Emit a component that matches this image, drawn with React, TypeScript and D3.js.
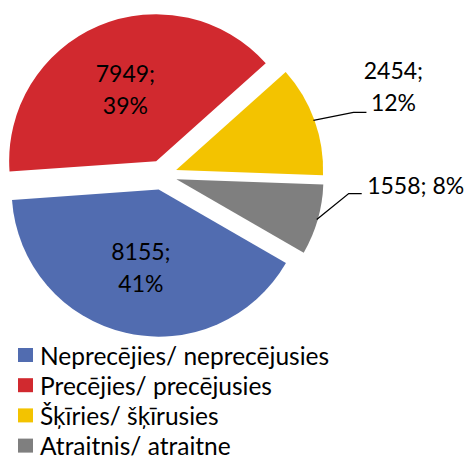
import React, { useEffect, useRef } from "react";
import * as d3 from "d3";

const categories = [
  "Neprecējies/ neprecējusies",
  "Precējies/ precējusies",
  "Šķīries/ šķīrusies",
  "Atraitnis/ atraitne",
];
const values = [8155, 7949, 2454, 1558];
const percentLabels = ["41%", "39%", "12%", "8%"];
const colors = ["#516CB0", "#D1292F", "#F3C300", "#7F7F7F"];

const FONT = "Lato, 'Open Sans', sans-serif";

const PieChart = () => {
  const ref = useRef<SVGSVGElement>(null);

  useEffect(() => {
    if (!ref.current) return;
    const svg = d3.select(ref.current);
    svg.selectAll("*").remove();

    const cx = 162;
    const cy = 175;
    const radius = 147;
    const explode = 15;
    const start = (120 * Math.PI) / 180;

    const data = categories.map((c, i) => ({
      name: c,
      value: values[i],
      pct: percentLabels[i],
      color: colors[i],
    }));

    const pie = d3
      .pie<any>()
      .sort(null)
      .value((d: any) => d.value)
      .startAngle(start)
      .endAngle(start + 2 * Math.PI);

    const arcs = pie(data);
    const arc = d3.arc<any>().innerRadius(0).outerRadius(radius);
    const mid = (a: any) => (a.startAngle + a.endAngle) / 2;
    const off = (a: any, r: number) => [
      Math.sin(mid(a)) * r,
      -Math.cos(mid(a)) * r,
    ];

    const g = svg.append("g").attr("transform", `translate(${cx},${cy})`);

    // exploded slices
    const slices = g
      .selectAll(".slice")
      .data(arcs)
      .enter()
      .append("g")
      .attr("class", "slice")
      .attr("transform", (d) => {
        const [x, y] = off(d, explode);
        return `translate(${x},${y})`;
      });

    slices
      .append("path")
      .attr("d", arc as any)
      .attr("fill", (d) => d.data.color);

    // inside labels for the two big slices
    const inside = arcs.filter((a) => a.endAngle - a.startAngle > 1);
    inside.forEach((a) => {
      const [x, y] = off(a, explode + 79);
      const t = g
        .append("text")
        .attr("x", x)
        .attr("y", y)
        .attr("text-anchor", "middle")
        .style("font-family", FONT)
        .style("font-size", "23px")
        .attr("fill", "#000");
      t.append("tspan").attr("x", x).attr("dy", "-0.3em").text(`${a.data.value};`);
      t.append("tspan").attr("x", x).attr("dy", "1.4em").text(a.data.pct);
    });

    // outside labels with leader lines
    const outside = arcs.filter((a) => a.endAngle - a.startAngle <= 1);
    const elbows = [
      [40, -8],
      [32, -26],
    ];
    const tail = 13;
    outside.forEach((a, i) => {
      const [sx, sy] = off(a, explode + radius - 1);
      const ex = sx + elbows[i][0];
      const ey = sy + elbows[i][1];
      g.append("polyline")
        .attr("points", `${sx},${sy} ${ex},${ey} ${ex + tail},${ey}`)
        .attr("fill", "none")
        .attr("stroke", "#000")
        .attr("stroke-width", 1.3);
      const t = g
        .append("text")
        .attr("text-anchor", "middle")
        .style("font-family", FONT)
        .style("font-size", "23px")
        .attr("fill", "#000");
      if (i === 0) {
        const tx = ex + 40;
        t.append("tspan").attr("x", tx).attr("y", ey - 33).text(`${a.data.value};`);
        t.append("tspan").attr("x", tx).attr("y", ey - 1).text(a.data.pct);
      } else {
        t.append("tspan")
          .attr("x", ex + 67)
          .attr("y", ey)
          .text(`${a.data.value}; ${a.data.pct}`);
      }
    });

    // legend
    const legend = svg.append("g").attr("transform", "translate(18,355)");
    const rows = legend
      .selectAll(".row")
      .data(data)
      .enter()
      .append("g")
      .attr("transform", (_d, i) => `translate(0,${i * 30.2})`);
    rows
      .append("rect")
      .attr("x", 0)
      .attr("y", -7)
      .attr("width", 15)
      .attr("height", 14)
      .attr("fill", (d) => d.color);
    rows
      .append("text")
      .attr("x", 22)
      .attr("y", 0)
      .attr("dominant-baseline", "central")
      .style("font-family", FONT)
      .style("font-size", "24.5px")
      .attr("fill", "#000")
      .text((d) => d.name);
  }, []);

  return (
    <svg
      ref={ref}
      width={469}
      height={460}
      style={{ position: "absolute", left: 0, top: 0, background: "#fff" }}
    />
  );
};

function App() {
  return <PieChart />;
}

export default App;
